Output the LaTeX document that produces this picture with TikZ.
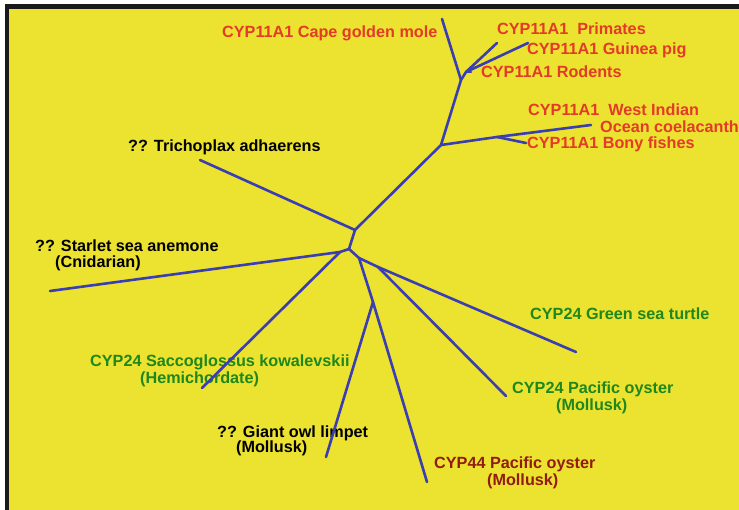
\documentclass[tikz,border=0pt]{standalone}
\usepackage{fontspec}
\setmainfont{Liberation Sans}
\definecolor{paper}{RGB}{236,226,48}
\definecolor{edge}{RGB}{58,62,178}
\definecolor{cypred}{RGB}{228,58,40}
\definecolor{cypgreen}{RGB}{30,135,30}
\definecolor{cypbrown}{RGB}{145,28,18}
\begin{document}
\begin{tikzpicture}[x=1pt,y=-1pt,
  lbl/.style={anchor=base west,inner sep=0pt,font=\fontsize{16.2}{18}\selectfont\bfseries},
  br/.style={line width=2.6pt,edge,line cap=round,line join=round}]
\useasboundingbox (0,0) rectangle (739,510);
\fill[black!90] (5,4) rectangle (739,510);
\fill[paper] (9,9) rectangle (739,510);
% labels
\node[lbl,cypred] (mole) at (222,38) {CYP11A1 Cape golden mole};
\node[lbl,cypred] (prim) at (497,35) {CYP11A1~ Primates};
\node[lbl,cypred] (guin) at (527,55) {CYP11A1 Guinea pig};
\node[lbl,cypred] (rode) at (481,78) {CYP11A1 Rodents};
\node[lbl,cypred] (wind) at (528,116) {CYP11A1~ West Indian};
\node[lbl,cypred] (ocea) at (600,133) {Ocean coelacanth};
\node[lbl,cypred] (bony) at (527,149) {CYP11A1 Bony fishes};
\node[lbl] (tric) at (128,152) {?? Trichoplax adhaerens};
\node[lbl] (star) at (35,252) {?? Starlet sea anemone};
\node[lbl] (cnid) at (55,268) {(Cnidarian)};
\node[lbl,cypgreen] (turt) at (530,320) {CYP24 Green sea turtle};
\node[lbl,cypgreen] (sacc) at (90,367) {CYP24 Saccoglossus kowalevskii};
\node[lbl,cypgreen] (hemi) at (140,384) {(Hemichordate)};
\node[lbl,cypgreen] (oyst) at (512,394) {CYP24 Pacific oyster};
\node[lbl,cypgreen] (moll) at (556,410) {(Mollusk)};
\node[lbl] (limp) at (217,437) {?? Giant owl limpet};
\node[lbl] (mollb) at (236,453) {(Mollusk)};
\node[lbl,cypbrown] (cyp44) at (434,468) {CYP44 Pacific oyster};
\node[lbl,cypbrown] (mollc) at (487,485) {(Mollusk)};
% inner nodes of the tree
\coordinate (a) at (349,249);
\coordinate (b) at (355,230);
\coordinate (g) at (340,252);
\coordinate (h) at (359,258);
\coordinate (i) at (373,302);
\coordinate (j) at (378,267);
\coordinate (c) at (441,145);
\coordinate (d) at (461,80);
\coordinate (e) at (466,72);
\coordinate (f) at (497,137);
% tips
\coordinate (tri) at (200,160);
\coordinate (mol) at (442,19);
\coordinate (pri) at (497,43);
\coordinate (gui) at (528,43);
\coordinate (rod) at (471,72);
\coordinate (coe) at (591,125);
\coordinate (bon) at (526,143);
\coordinate (sta) at (50,291);
\coordinate (sac) at (202,388);
\coordinate (gio) at (326,457);
\coordinate (c44) at (427,482);
\coordinate (tur) at (576,352);
\coordinate (oys) at (506,396);
% branches
\draw[br] (g)--(a)--(b)--(c)--(d)--(e);
\draw[br] (a)--(h)--(j);
\draw[br] (h)--(i);
\draw[br] (b)--(tri);
\draw[br] (d)--(mol);
\foreach \t in {pri,gui,rod}
    \draw[br] (e)--(\t);
\draw[br] (c)--(f)--(coe);
\draw[br] (f)--(bon);
\draw[br] (g)--(sta);
\draw[br] (g)--(sac);
\draw[br] (i)--(gio);
\draw[br] (i)--(c44);
\draw[br] (j)--(tur);
\draw[br] (j)--(oys);
\end{tikzpicture}
\end{document}
